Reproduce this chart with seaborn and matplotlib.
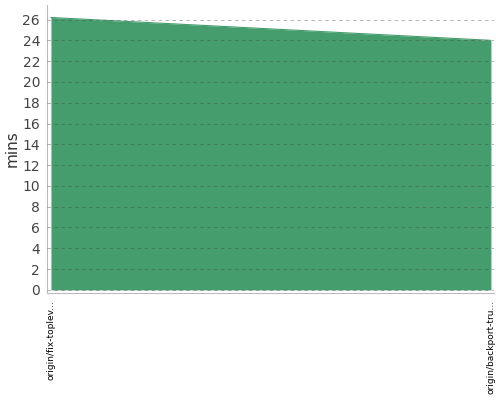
import pandas as pd
import matplotlib
matplotlib.use('Agg')
import matplotlib.pyplot as plt
import seaborn as sns

branches = ['origin/fix-toplev...', 'origin/backport-tru...']
minutes = [26.2, 24.0]
yticks = list(range(0, 27, 2))

df = pd.DataFrame({'branch': branches, 'mins': minutes, 'pos': range(len(branches))})

sns.set_style('white')
plt.rcParams['font.family'] = ['DejaVu Sans']

fig = plt.figure(figsize=(5, 4), dpi=100)
ax = fig.add_axes([0.094, 0.2675, 0.894, 0.72])

fill = '#459d6d'
sns.lineplot(data=df, x='pos', y='mins', color=fill, linewidth=0.8, ax=ax)
ax.fill_between(df['pos'], df['mins'], color=fill, linewidth=0, zorder=1)

ax.set_xlim(-0.009, 1.007)
ax.set_ylim(-0.3, 27.4)
ax.set_yticks(yticks)
ax.set_yticklabels([str(t) for t in yticks], fontsize=10, color='#444444')
ax.set_xticks(df['pos'])
ax.set_xticklabels(branches, rotation=90, fontsize=6.5, color='black')
ax.set_xlabel('')
ax.set_ylabel('mins', fontsize=11, color='#333333')
ax.yaxis.set_label_coords(-0.062, 0.5)

ax.grid(axis='y', linestyle=(0, (5, 5)), color='#444444', linewidth=0.5, alpha=0.55)
ax.set_axisbelow(False)
for s in ['top', 'right']:
    ax.spines[s].set_visible(False)
for s in ['left', 'bottom']:
    ax.spines[s].set_color('#bbbbbb')
ax.tick_params(axis='both', length=3, color='#bbbbbb', pad=2)

fig.savefig('out.png', dpi=100)
